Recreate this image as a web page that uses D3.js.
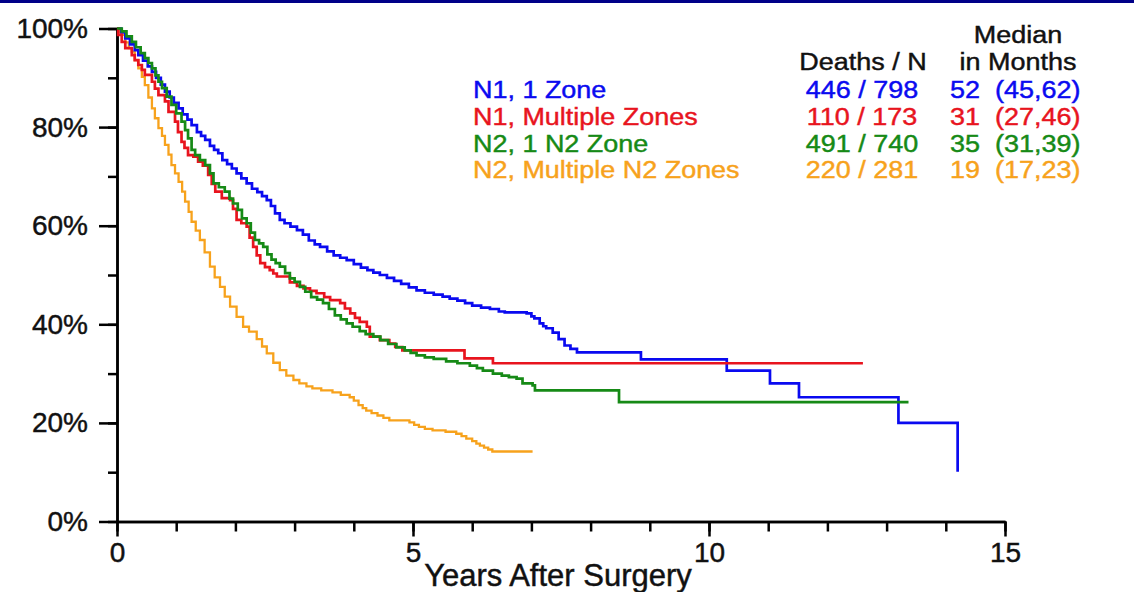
<!DOCTYPE html>
<html>
<head>
<meta charset="utf-8">
<script src="https://cdn.jsdelivr.net/npm/d3@7"></script>
<style>
  html, body { margin: 0; padding: 0; background: #fff; }
  svg { display: block; }
  svg text { paint-order: stroke; stroke-width: 0.45px; }
</style>
</head>
<body>
<div id="chart"></div>
<script>
// Kaplan-Meier survival by nodal zone — D3 recreation

// ── Data ─────────────────────────────────────────────────────────────────────
var groupLabels  = ['N1, 1 Zone', 'N1, Multiple Zones', 'N2, 1 N2 Zone', 'N2, Multiple N2 Zones'];
var groupColors  = ['#0a0af0', '#e8141e', '#168a16', '#f7a21c'];
var deathsN      = ['446 / 798', '110 / 173', '491 / 740', '220 / 281'];
var medianMonths = ['52', '31', '35', '19'];
var medianCI     = ['(45,62)', '(27,46)', '(31,39)', '(17,23)'];

var xTicksMajor = [0, 5, 10, 15];
var yTicksMajor = [0, 20, 40, 60, 80, 100];

// [years, survival %]
var n1OneZone = [
  [0,100],[0.07,99.2],[0.14,98],[0.22,96.8],[0.3,95.6],[0.36,94.6],[0.44,93.5],[0.52,92.3],
  [0.59,91.2],[0.66,90],[0.74,88.6],[0.81,87.2],[0.89,86],[0.96,84.9],[1.04,83.8],[1.11,82.6],
  [1.19,81.5],[1.26,80.4],[1.35,79],[1.42,78.2],[1.49,77.4],[1.57,76.2],[1.64,75.4],[1.71,74.7],
  [1.78,73.3],[1.86,72.5],[1.94,71.6],[2.02,70.6],[2.1,69.6],[2.19,68.6],[2.28,67.5],[2.37,66.8],
  [2.45,66],[2.53,65.2],[2.6,64],[2.67,62.5],[2.75,61.2],[2.83,60.5],[2.93,59.8],[3.04,59.1],
  [3.14,58.2],[3.24,57],[3.34,56.2],[3.43,55.7],[3.55,54.8],[3.66,54],[3.77,53.5],[3.88,53],
  [4.0,52.2],[4.12,51.5],[4.23,51],[4.33,50.5],[4.44,50],[4.56,49.4],[4.68,48.8],[4.8,48.2],
  [4.93,47.5],[5.06,46.9],[5.2,46.4],[5.35,46],[5.5,45.6],[5.62,45.2],[5.75,44.8],[5.88,44.3],
  [6.0,43.8],[6.15,43.4],[6.3,43.1],[6.45,42.6],[6.55,42.4],[6.92,42.2],[7.0,41.6],[7.05,41.2],
  [7.14,40.2],[7.2,39.6],[7.25,39.2],[7.36,38.3],[7.46,37],[7.56,35.7],[7.66,35],[7.77,34.3],
  [8.85,32.9],[10.3,30.6],[11.03,28],[11.52,25.2],[13.2,20],[14.2,10.1]
];
var n1MultiZone = [
  [0,100],[0.02,98.7],[0.08,97.3],[0.14,96],[0.25,94.6],[0.3,93.6],[0.36,92.6],[0.42,91.6],
  [0.47,90.6],[0.59,89.2],[0.64,87.8],[0.7,86.5],[0.81,85.2],[0.87,83.1],[0.98,81.1],[1.03,79],
  [1.09,77],[1.14,75.8],[1.2,74.3],[1.29,74],[1.37,73],[1.45,72.2],[1.54,70.3],[1.6,68.5],
  [1.66,66.9],[1.77,65.6],[1.91,65.2],[1.96,63.4],[2.02,61.2],[2.1,60.5],[2.19,59.8],[2.24,57.6],
  [2.3,55.7],[2.36,54],[2.42,52.4],[2.5,51.6],[2.58,51],[2.64,50.3],[2.7,49.7],[2.92,48.5],
  [3.04,47.8],[3.15,47.3],[3.26,46.8],[3.37,46.3],[3.5,45.5],[3.6,44.9],[3.77,44.3],[3.85,43.2],
  [3.94,42.2],[4.02,41.3],[4.1,40.5],[4.22,39.5],[4.27,37.5],[4.44,36.8],[4.6,36.1],[4.7,35.4],
  [4.82,34.7],[5.87,33.1],[6.35,32.1],[12.6,32.1]
];
var n2OneZone = [
  [0,100],[0.08,99.4],[0.16,98.4],[0.25,97.3],[0.32,96.2],[0.4,95],[0.47,94],[0.53,93],
  [0.59,91.9],[0.65,90.5],[0.7,89.2],[0.76,87.9],[0.84,86.2],[0.92,84.5],[1.0,82.8],[1.09,81.1],
  [1.15,79.4],[1.2,77.7],[1.26,75.4],[1.32,74.3],[1.4,73.3],[1.49,72.3],[1.57,70.6],[1.63,68.6],
  [1.72,67.8],[1.82,66.9],[1.9,65.5],[1.96,64.5],[2.04,63.2],[2.11,61.5],[2.19,60.5],[2.26,58.6],
  [2.33,57.1],[2.4,56.4],[2.47,55.7],[2.54,54.2],[2.61,53.1],[2.68,52.4],[2.75,51.7],[2.84,50.4],
  [2.92,49.3],[3.0,48.6],[3.09,47.6],[3.18,46.6],[3.28,45.5],[3.38,45],[3.48,44.3],[3.58,43.1],
  [3.68,41.8],[3.78,41],[3.88,40.2],[3.98,39.5],[4.1,38.6],[4.2,38],[4.33,37.5],[4.45,36.8],
  [4.58,36],[4.72,35.3],[4.86,34.7],[4.96,34.2],[5.06,33.7],[5.2,33.3],[5.35,33],[5.56,32.5],
  [5.75,32.1],[5.96,31.6],[6.08,31.1],[6.18,30.6],[6.35,30],[6.5,29.6],[6.62,29.3],[6.75,29],
  [6.85,28],[7.02,27.6],[7.06,26.6],[8.48,24.2],[13.37,24.2]
];
var n2MultiZone = [
  [0,100],[0.04,99.3],[0.08,98.7],[0.14,97.2],[0.2,96],[0.25,95.3],[0.3,93.6],[0.36,91.9],
  [0.42,90.2],[0.47,88.5],[0.53,86],[0.59,83.8],[0.64,81.8],[0.7,79.8],[0.76,78.2],[0.81,76.4],
  [0.87,74.4],[0.92,72.3],[0.98,70.6],[1.04,68.9],[1.1,66.9],[1.15,64.9],[1.21,62.8],[1.26,60.8],
  [1.33,59],[1.4,57.1],[1.48,54.6],[1.57,51.7],[1.65,49.5],[1.74,47.6],[1.82,45.6],[1.91,43.6],
  [2.02,41.5],[2.13,39.5],[2.23,38.5],[2.36,37],[2.45,35.5],[2.53,34.1],[2.64,32.2],[2.75,30.7],
  [2.86,29.6],[2.98,28.7],[3.08,28],[3.2,27.4],[3.3,27],[3.45,26.6],[3.64,26.2],[3.78,25.7],
  [3.93,25.2],[4.0,24.5],[4.08,23.6],[4.15,23],[4.21,22.5],[4.3,22],[4.4,21.5],[4.5,21],
  [4.6,20.5],[4.94,20.1],[5.02,19.6],[5.1,19.2],[5.2,18.8],[5.33,18.5],[5.55,18.2],[5.73,17.8],
  [5.82,17.3],[5.9,16.8],[6.0,16.3],[6.07,15.8],[6.13,15.4],[6.2,15],[6.27,14.6],[6.34,14.2],
  [7.02,14.2]
];
var seriesData = [n1OneZone, n1MultiZone, n2OneZone, n2MultiZone];

// ── Layout ───────────────────────────────────────────────────────────────────
var W = 1134, H = 592;
var FONT = '"Liberation Sans", Arial, Helvetica, sans-serif';

var svg = d3.select('#chart').append('svg')
  .attr('width', W).attr('height', H)
  .style('background', '#fff');

// navy strip at the top of the slide
svg.append('rect').attr('x', 0).attr('y', 0).attr('width', W).attr('height', 3)
  .attr('fill', '#000088');

var x = d3.scaleLinear().domain([0, 15]).range([117, 1005]);
var y = d3.scaleLinear().domain([0, 100]).range([521.5, 28.5]);

// ── Axes ─────────────────────────────────────────────────────────────────────
var yMinor = svg.append('g').attr('transform', 'translate(' + x(0) + ',0)')
  .call(d3.axisLeft(y).tickValues(d3.range(0, 101, 10)).tickSize(9).tickSizeOuter(0).tickFormat(''));
var yMajor = svg.append('g').attr('transform', 'translate(' + x(0) + ',0)')
  .call(d3.axisLeft(y).tickValues(yTicksMajor).tickSize(18).tickSizeOuter(0)
    .tickFormat(function(d) { return d + '%'; }));

var xMinor = svg.append('g').attr('transform', 'translate(0,' + y(0) + ')')
  .call(d3.axisBottom(x).tickValues(d3.range(0, 16, 1)).tickSize(10).tickSizeOuter(0).tickFormat(''));
var xMajor = svg.append('g').attr('transform', 'translate(0,' + y(0) + ')')
  .call(d3.axisBottom(x).tickValues(xTicksMajor).tickSize(15).tickSizeOuter(0));

[yMinor, yMajor, xMinor, xMajor].forEach(function(a) {
  a.selectAll('path.domain').attr('stroke', '#000').attr('stroke-width', 2.5);
  a.selectAll('.tick line').attr('stroke', '#000').attr('stroke-width', 2.5);
});

yMajor.selectAll('.tick text')
  .attr('x', -29).attr('dy', '0.32em')
  .attr('font-family', FONT).attr('font-size', 28).attr('fill', '#111').attr('stroke', '#111');

xMajor.selectAll('.tick text')
  .attr('y', 40).attr('dy', 0)
  .attr('font-family', FONT).attr('font-size', 28).attr('fill', '#111').attr('stroke', '#111');

svg.append('text')
  .attr('x', 558).attr('y', 586)
  .attr('text-anchor', 'middle')
  .attr('font-family', FONT).attr('font-size', 31).attr('fill', '#111').attr('stroke', '#111')
  .text('Years After Surgery');

// ── Survival curves ──────────────────────────────────────────────────────────
var line = d3.line()
  .x(function(d) { return x(d[0]); })
  .y(function(d) { return y(d[1]); })
  .curve(d3.curveStepAfter);

var drawOrder = [3, 0, 1, 2];
svg.append('g').selectAll('path').data(drawOrder).enter().append('path')
  .attr('fill', 'none')
  .attr('stroke', function(i) { return groupColors[i]; })
  .attr('stroke-width', function(i) { return i === 3 ? 2.3 : 2.7; })
  .attr('d', function(i) { return line(seriesData[i]); });

// ── Legend table ─────────────────────────────────────────────────────────────
// the slide text is a little wider than plain Arial, hence the x-stretch
var LF = 24.5, SX = 1.1;

function stretchText(sel, tx, ty, anchor, str) {
  return sel.append('text')
    .attr('transform', 'translate(' + tx + ',' + ty + ') scale(' + SX + ',1)')
    .attr('text-anchor', anchor || 'start')
    .text(str);
}

var hdr = svg.append('g').attr('font-family', FONT).attr('font-size', LF)
  .attr('fill', '#111').attr('stroke', '#111');
stretchText(hdr, 863, 70, 'middle', 'Deaths / N');
stretchText(hdr, 1018, 43, 'middle', 'Median');
stretchText(hdr, 1018, 70, 'middle', 'in Months');

var rows = svg.append('g').attr('font-family', FONT).attr('font-size', LF)
  .selectAll('g').data(groupLabels).enter().append('g')
  .attr('fill', function(d, i) { return groupColors[i]; })
  .attr('stroke', function(d, i) { return groupColors[i]; })
  .attr('transform', function(d, i) { return 'translate(0,' + (98 + i * 26.8) + ')'; });

rows.each(function(d, i) {
  var r = d3.select(this);
  stretchText(r, 473, 0, 'start', d);
  stretchText(r, 862, 0, 'middle', deathsN[i]);
  stretchText(r, 950, 0, 'start', medianMonths[i]);
  stretchText(r, 995, 0, 'start', medianCI[i]);
});
</script>
</body>
</html>
